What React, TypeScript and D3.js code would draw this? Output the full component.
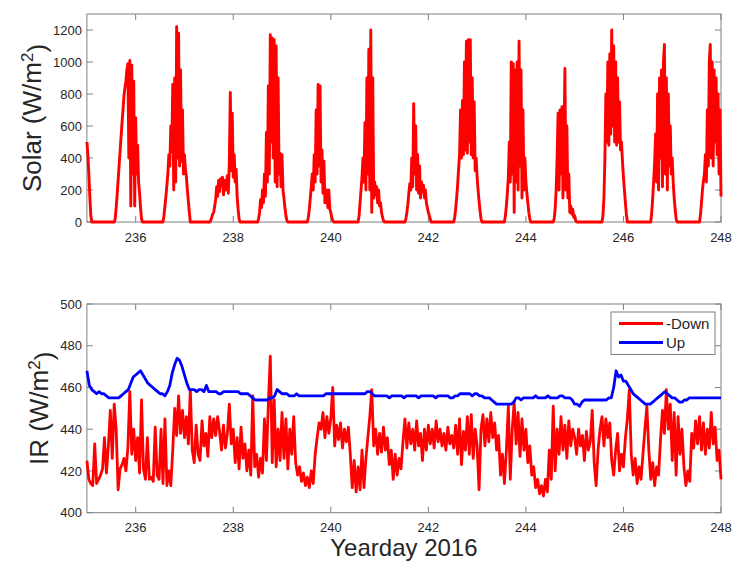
import React from 'react';
import * as d3 from 'd3';

// ---------- data ----------
const X_DOMAIN = [235, 248];
const X_TICKS = [236, 238, 240, 242, 244, 246, 248];
const SOLAR_DOMAIN = [0, 1300];
const SOLAR_TICKS = [0, 200, 400, 600, 800, 1000, 1200];
const IR_DOMAIN = [400, 500];
const IR_TICKS = [400, 420, 440, 460, 480, 500];
const LEGEND_LABELS = ['-Down', 'Up'];

// Solar: daytime segments sampled every 0.02 day (night = 0)
const SOLAR_STEP = 0.02;
const solarStarts = [235.0, 235.56, 236.56, 237.52, 238.5, 239.52, 240.56, 241.52, 242.52, 243.56, 244.56, 245.56, 246.56, 247.56];
const solarSegments = [
  [500, 420, 300, 160, 40, 0],
  [0, 20, 90, 170, 260, 350, 440, 530, 620, 700, 790, 840, 880, 950, 990, 400, 1010, 100, 980, 300, 880, 100, 650, 300, 480, 250, 180, 90, 20, 0],
  [0, 40, 100, 160, 230, 300, 420, 350, 600, 440, 860, 200, 900, 250, 1220, 400, 1180, 350, 950, 380, 700, 300, 420, 330, 280, 200, 130, 60, 0],
  [0, 10, 30, 50, 60, 100, 140, 220, 160, 260, 190, 270, 230, 280, 170, 260, 200, 250, 290, 180, 380, 810, 320, 680, 280, 420, 250, 330, 160, 80, 20, 0],
  [0, 20, 60, 140, 90, 200, 120, 300, 160, 560, 250, 850, 300, 1170, 500, 1150, 400, 1140, 250, 1100, 220, 900, 300, 430, 220, 420, 200, 150, 90, 40, 10, 0],
  [0, 30, 80, 150, 220, 300, 200, 420, 250, 700, 300, 860, 350, 850, 250, 450, 180, 380, 120, 160, 200, 90, 200, 80, 60, 30, 10, 0],
  [0, 40, 120, 200, 280, 400, 250, 620, 200, 900, 300, 1080, 200, 1200, 60, 900, 150, 250, 170, 220, 120, 200, 100, 120, 60, 30, 10, 0],
  [0, 20, 60, 110, 180, 240, 200, 400, 220, 740, 300, 600, 200, 420, 180, 350, 150, 250, 190, 230, 150, 200, 120, 90, 60, 40, 20, 0],
  [0, 30, 80, 150, 230, 330, 420, 700, 400, 760, 420, 1000, 450, 1130, 430, 1140, 500, 1140, 420, 900, 400, 750, 320, 400, 280, 200, 130, 70, 20, 0],
  [0, 40, 100, 180, 280, 500, 250, 1000, 300, 990, 60, 950, 250, 1000, 200, 1130, 350, 950, 150, 700, 200, 400, 250, 180, 120, 60, 20, 0],
  [0, 20, 80, 200, 400, 680, 200, 700, 300, 720, 150, 500, 960, 200, 600, 150, 300, 60, 100, 50, 80, 30, 40, 10, 0],
  [0, 40, 150, 400, 800, 500, 1000, 480, 1050, 550, 1200, 600, 1100, 500, 1000, 480, 900, 500, 750, 450, 500, 380, 280, 200, 120, 50, 0],
  [0, 60, 150, 260, 380, 550, 250, 800, 200, 900, 400, 950, 220, 1000, 1110, 300, 900, 200, 800, 350, 600, 300, 400, 250, 150, 80, 20, 0],
  [0, 50, 120, 200, 260, 300, 420, 250, 700, 350, 1000, 1110, 400, 1000, 350, 950, 500, 900, 420, 800, 300, 700, 160],
];

// IR -Down: every 0.04 day from 235.00 (25 values per day)
const IR_DOWN_START = 235;
const IR_DOWN_STEP = 0.04;
const irDown = [
  425, 416, 414, 413, 433, 414, 416, 418, 421, 436, 419, 432, 449, 426, 452, 440, 411, 421, 423, 426, 420, 431, 458, 428, 440,
  425, 436, 419, 454, 421, 416, 436, 416, 417, 415, 441, 418, 416, 440, 414, 445, 413, 420, 413, 430, 450, 437, 456, 438, 449,
  436, 446, 433, 459, 430, 424, 442, 428, 425, 444, 432, 438, 427, 446, 436, 445, 437, 446, 439, 430, 442, 431, 438, 452, 433,
  440, 424, 436, 421, 441, 426, 433, 420, 430, 418, 456, 422, 428, 417, 426, 419, 445, 425, 452, 475, 424, 454, 422, 440, 425,
  448, 426, 445, 421, 440, 428, 446, 424, 418, 422, 415, 419, 413, 417, 412, 420, 414, 428, 436, 443, 440, 448, 436, 446, 438,
  445, 460, 432, 442, 435, 443, 431, 440, 434, 441, 428, 412, 425, 410, 422, 411, 430, 412, 426, 436, 446, 459, 432, 440, 428,
  438, 429, 441, 430, 436, 423, 430, 416, 428, 418, 426, 421, 434, 445, 431, 443, 433, 440, 430, 444, 432, 438, 425, 440, 430,
  442, 433, 440, 431, 444, 434, 440, 432, 438, 430, 441, 433, 437, 431, 442, 428, 445, 423, 439, 430, 446, 428, 447, 426, 440,
  432, 411, 440, 447, 432, 445, 434, 448, 436, 443, 430, 437, 418, 428, 414, 430, 451, 416, 440, 453, 433, 448, 427, 445, 430,
  440, 424, 432, 418, 422, 412, 416, 409, 413, 408, 416, 410, 430, 416, 451, 420, 440, 428, 446, 430, 442, 426, 444, 432, 440,
  436, 428, 440, 432, 437, 425, 439, 430, 434, 449, 424, 413, 430, 440, 446, 432, 445, 436, 443, 425, 418, 430, 438, 420, 428,
  422, 436, 445, 459, 428, 418, 426, 414, 422, 416, 428, 440, 451, 430, 416, 424, 413, 422, 418, 435, 449, 438, 459, 440, 452,
  425, 448, 418, 446, 428, 440, 422, 413, 420, 415, 438, 431, 444, 433, 446, 430, 443, 428, 440, 431, 448, 433, 441, 425, 430,
  416,
];

// IR Up: every 0.05 day from 235.00 (20 values per day)
const IR_UP_START = 235;
const IR_UP_STEP = 0.05;
const irUp = [
  468, 461, 459, 458, 457, 458, 457, 457, 456, 455, 455, 455, 455, 455, 456, 457, 458, 459, 462, 465,
  466, 467, 468, 466, 464, 462, 461, 460, 459, 458, 457, 457, 456, 458, 461, 467, 471, 474, 473, 470,
  466, 462, 459, 459, 459, 458, 459, 459, 458, 461, 458, 458, 458, 458, 457, 457, 458, 458, 458, 458,
  458, 458, 458, 457, 457, 457, 457, 456, 455, 454, 454, 454, 454, 454, 454, 455, 455, 456, 459, 458,
  457, 457, 457, 456, 456, 456, 457, 456, 456, 456, 456, 456, 456, 456, 456, 456, 456, 456, 457, 457,
  457, 457, 457, 457, 457, 457, 457, 457, 457, 457, 457, 457, 457, 457, 457, 458, 458, 457, 456, 456,
  456, 456, 456, 456, 455, 456, 456, 456, 456, 456, 455, 456, 456, 456, 456, 456, 455, 456, 456, 456,
  456, 456, 456, 455, 456, 456, 456, 456, 456, 455, 455, 456, 456, 457, 457, 457, 457, 457, 456, 457,
  457, 456, 456, 455, 455, 455, 454, 453, 452, 452, 452, 452, 452, 452, 452, 453, 455, 455, 454, 455,
  455, 455, 455, 455, 456, 455, 455, 455, 455, 456, 455, 455, 455, 455, 456, 456, 455, 455, 455, 454,
  452, 452, 451, 453, 454, 454, 454, 454, 454, 454, 454, 454, 454, 454, 455, 455, 460, 468, 465, 466,
  463, 463, 461, 459, 457, 456, 455, 454, 453, 452, 452, 452, 453, 454, 455, 456, 457, 458, 457, 456,
  455, 455, 454, 453, 453, 454, 454, 455, 455, 455, 455, 455, 455, 455, 455, 455, 455, 455, 455, 455,
  455,
];

// ---------- layout ----------
const W = 732;
const H = 562;
const LEFT = 86.9;
const RIGHT = 721;
const TOP1 = 14;
const BOT1 = 222;
const TOP2 = 304;
const BOT2 = 512.7;
const FONT = '"Liberation Sans", Arial, sans-serif';
const AXIS_COLOR = '#808080';
const TEXT_COLOR = '#262626';
const RED = '#ff0000';
const BLUE = '#0000ff';
const TICK = 6;

type Pt = [number, number];

function buildSolar(): Pt[] {
  const pts: Pt[] = [];
  solarStarts.forEach((s, i) => {
    solarSegments[i].forEach((v, j) => pts.push([s + j * SOLAR_STEP, v]));
  });
  return pts;
}

function buildSeries(start: number, step: number, vals: number[]): Pt[] {
  return vals.map((v, i) => [start + i * step, v]);
}

function Panel({ yDomain, yTicks, top, bottom, series, labelMain, labelX }: any) {
  const x = d3.scaleLinear().domain(X_DOMAIN).range([LEFT, RIGHT]);
  const y = d3.scaleLinear().domain(yDomain).range([bottom, top]);
  const line = d3.line<Pt>().x((d) => x(d[0])).y((d) => y(d[1]));
  const cy = (top + bottom) / 2;
  return (
    <g>
      <rect x={LEFT} y={top} width={RIGHT - LEFT} height={bottom - top} fill="#fff" stroke={AXIS_COLOR} strokeWidth={1} />
      {X_TICKS.map((t) => (
        <g key={'x' + t}>
          <line x1={x(t)} x2={x(t)} y1={bottom} y2={bottom - TICK} stroke={AXIS_COLOR} />
          <line x1={x(t)} x2={x(t)} y1={top} y2={top + TICK} stroke={AXIS_COLOR} />
          <text x={x(t)} y={bottom + 19.5} textAnchor="middle" fontSize={13} fill={TEXT_COLOR} fontFamily={FONT}>{t}</text>
        </g>
      ))}
      {yTicks.map((t: number) => (
        <g key={'y' + t}>
          <line x1={LEFT} x2={LEFT + TICK} y1={y(t)} y2={y(t)} stroke={AXIS_COLOR} />
          <line x1={RIGHT} x2={RIGHT - TICK} y1={y(t)} y2={y(t)} stroke={AXIS_COLOR} />
          <text x={LEFT - 5} y={y(t)} dy="0.36em" textAnchor="end" fontSize={13} fill={TEXT_COLOR} fontFamily={FONT}>{t}</text>
        </g>
      ))}
      {series.map((s: any, i: number) => (
        <path key={i} d={line(s.data) || ''} fill="none" stroke={s.color} strokeWidth={s.width} strokeLinejoin="round" />
      ))}
      <text transform={`translate(${labelX},${cy}) rotate(-90)`} dy="0.36em" textAnchor="middle" fontSize={26} fill={TEXT_COLOR} fontFamily={FONT}>
        {labelMain} (W/m<tspan dy="-0.5em" fontSize={17}>2</tspan><tspan dy="0.5em">)</tspan>
      </text>
    </g>
  );
}

export default function App() {
  const solar = buildSolar();
  const down = buildSeries(IR_DOWN_START, IR_DOWN_STEP, irDown);
  const up = buildSeries(IR_UP_START, IR_UP_STEP, irUp);
  const legendColors = [RED, BLUE];
  const lx = 611;
  const ly = 312;
  return (
    <svg width={W} height={H} style={{ position: 'absolute', left: 0, top: 0, background: '#fff' }}>
      <rect width={W} height={H} fill="#fff" />
      <Panel yDomain={SOLAR_DOMAIN} yTicks={SOLAR_TICKS} top={TOP1} bottom={BOT1} labelMain="Solar" labelX={32}
        series={[{ data: solar, color: RED, width: 2.9 }]} />
      <Panel yDomain={IR_DOMAIN} yTicks={IR_TICKS} top={TOP2} bottom={BOT2} labelMain="IR" labelX={39}
        series={[{ data: down, color: RED, width: 2.8 }, { data: up, color: BLUE, width: 2.8 }]} />
      <g>
        <rect x={lx} y={ly} width={104} height={42.5} fill="#fff" stroke={AXIS_COLOR} />
        {LEGEND_LABELS.map((l, i) => (
          <g key={l}>
            <line x1={lx + 8} x2={lx + 52} y1={ly + 11.5 + i * 19} y2={ly + 11.5 + i * 19} stroke={legendColors[i]} strokeWidth={2.8} />
            <text x={lx + 55} y={ly + 11.5 + i * 19} dy="0.36em" fontSize={15} fill={TEXT_COLOR} fontFamily={FONT}>{l}</text>
          </g>
        ))}
      </g>
      <text x={(LEFT + RIGHT) / 2} y={556} textAnchor="middle" fontSize={24} fill={TEXT_COLOR} fontFamily={FONT}>Yearday 2016</text>
    </svg>
  );
}
